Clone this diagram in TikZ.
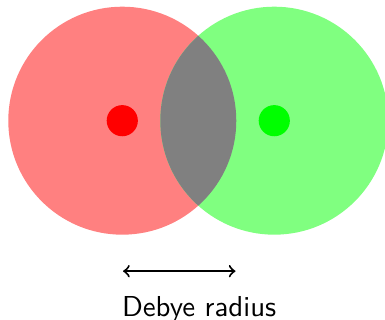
\documentclass[tikz,border=0pt]{standalone}
\begin{document}
\begin{tikzpicture}[x=1cm,y=1cm,
  ion/.style={circle,inner sep=0pt,minimum size=0.41cm},
  cloud/.style={circle,inner sep=0pt,minimum size=3cm}]
\useasboundingbox (-1.609,-2.622) rectangle (3.457,1.588);
\node[cloud,fill=red!50] (rc) at (0,0) {};
\node[cloud,fill=green!50] (gc) at (2,0) {};
\begin{scope}
  \clip (0,0) circle (1.5);
  \fill[gray] (2,0) circle (1.5);
\end{scope}
\node[ion,fill=red] (rd) at (0,0) {};
\node[ion,fill=green] (gd) at (2,0) {};
\coordinate (a1) at (0.01,-1.98);
\coordinate (a2) at (1.49,-1.98);
\draw[<->,line width=0.75pt] (a1) -- (a2);
\node[anchor=base west,inner sep=0pt,font=\fontsize{10.8}{13}\sffamily] (lbl) at (-0.01,-2.58) {Debye radius};
\end{tikzpicture}
\end{document}
